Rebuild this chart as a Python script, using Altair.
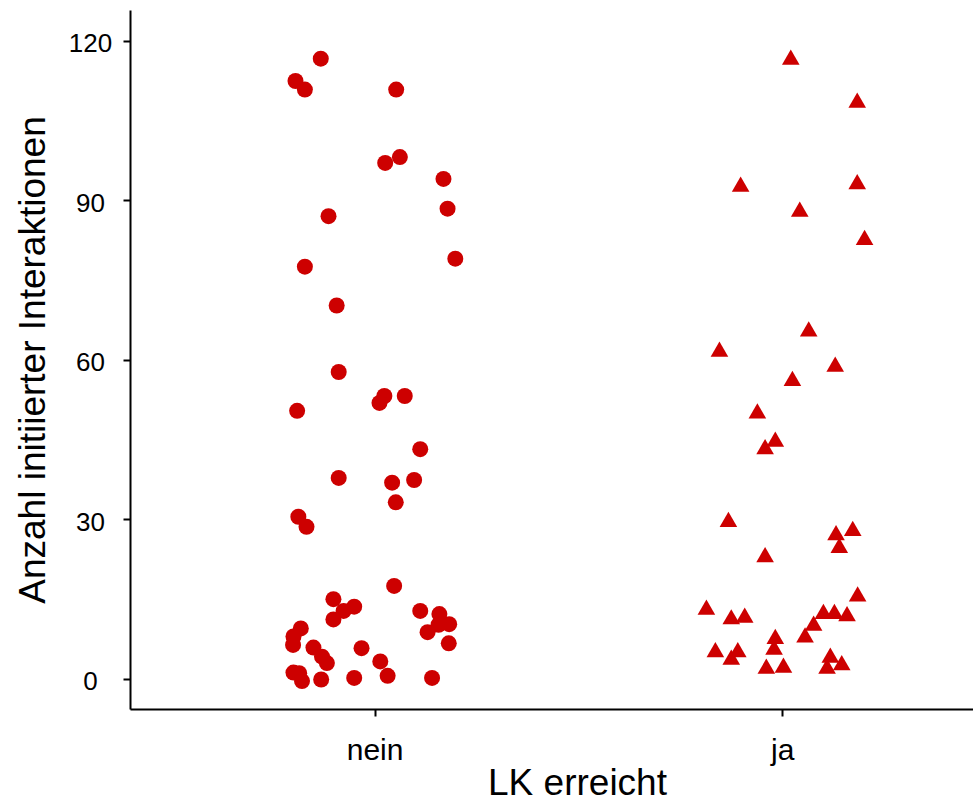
import altair as alt
import pandas as pd

# Group "nein" (circles): jittered x position and value
nein_x = [0.868, 0.806, 0.829, 1.053, 1.026, 1.062, 1.169, 1.179, 0.887, 1.198,
          0.829, 0.907, 0.912, 1.024, 1.012, 1.074, 0.810, 1.112, 0.912, 1.043,
          1.097, 1.052, 0.813, 0.833, 1.048, 0.899, 0.924, 0.950, 0.899, 1.112,
          1.159, 1.183, 1.157, 1.130, 1.182, 0.819, 0.801, 0.800, 0.850, 0.871,
          0.883, 0.968, 1.014, 0.801, 0.815, 0.822, 0.869, 0.950, 1.032, 1.141]
nein_y = [116.6, 112.4, 110.8, 110.8, 97.0, 98.1, 94.0, 88.4, 87.0, 79.0,
          77.5, 70.2, 57.7, 53.2, 51.9, 53.2, 50.4, 43.2, 37.8, 36.9,
          37.4, 33.2, 30.5, 28.6, 17.5, 15.0, 12.8, 13.6, 11.2, 12.8,
          12.2, 10.3, 10.2, 8.8, 6.7, 9.5, 8.0, 6.4, 5.9, 4.2,
          3.0, 5.8, 3.3, 1.2, 1.1, -0.4, -0.1, 0.2, 0.6, 0.2]

# Group "ja" (triangles)
ja_x = [2.021, 2.184, 1.898, 2.184, 2.043, 2.202, 2.065, 1.846, 2.130, 2.025,
        1.939, 1.983, 1.958, 1.868, 2.132, 2.173, 2.140, 1.958, 2.185, 1.814,
        1.875, 1.908, 2.101, 2.128, 2.159, 2.077, 2.056, 1.983, 1.980, 1.836,
        1.891, 1.875, 1.961, 2.003, 2.118, 2.110, 2.146]
ja_y = [116.9, 108.8, 93.0, 93.5, 88.3, 83.0, 65.8, 62.0, 59.2, 56.5,
        50.4, 45.1, 43.7, 30.0, 27.5, 28.3, 25.1, 23.4, 16.0, 13.5,
        11.7, 12.0, 12.7, 12.7, 12.3, 10.5, 8.3, 8.0, 6.0, 5.5,
        5.5, 4.1, 2.4, 2.6, 4.5, 2.4, 3.1]

groups = ["nein", "ja"]
y_ticks = [0, 30, 60, 90, 120]

df = pd.DataFrame({
    "LK": ["nein"] * len(nein_x) + ["ja"] * len(ja_x),
    "pos": nein_x + ja_x,
    "anzahl": nein_y + ja_y,
})

FONT = "Liberation Sans"

chart = alt.Chart(df).mark_point(filled=True, opacity=1, strokeWidth=0).encode(
    x=alt.X("pos:Q",
            scale=alt.Scale(domain=[0.4, 2.468], nice=False, zero=False),
            axis=alt.Axis(values=[1, 2],
                          labelExpr="datum.value == 1 ? 'nein' : 'ja'",
                          title="LK erreicht", grid=False,
                          domainColor="black", domainWidth=2,
                          tickColor="black", tickWidth=2, tickSize=7,
                          labelFont=FONT, labelFontSize=30, labelColor="black",
                          labelBaseline="alphabetic", labelPadding=43,
                          titleFont=FONT, titleFontSize=37, titleFontWeight="normal",
                          titleColor="black", titleX=447, titleY=85,
                          titleAlign="center", titleBaseline="alphabetic")),
    y=alt.Y("anzahl:Q",
            scale=alt.Scale(domain=[-5.64, 125.75], nice=False, zero=False),
            axis=alt.Axis(values=y_ticks, grid=False,
                          title="Anzahl initiierter Interaktionen",
                          domainColor="black", domainWidth=2,
                          tickColor="black", tickWidth=2, tickSize=7,
                          labelFont=FONT, labelFontSize=26, labelColor="black",
                          labelAlign="center", labelBaseline="middle",
                          labelPadding=33, labelOffset=3,
                          titleFont=FONT, titleFontSize=37, titleFontWeight="normal",
                          titleColor="black", titleAngle=270, titleX=-86, titleY=349.5,
                          titleAlign="center", titleBaseline="alphabetic")),
    shape=alt.Shape("LK:N", scale=alt.Scale(domain=groups, range=["circle", "triangle-up"]), legend=None),
    size=alt.Size("LK:N", scale=alt.Scale(domain=groups, range=[256, 310]), legend=None),
    color=alt.value("#CD0000"),
).properties(
    width=843, height=699,
    autosize=alt.AutoSizeParams(type="none"),
    padding={"left": 130, "top": 10, "right": 0, "bottom": 89},
    background="white",
).configure_view(stroke=None)

chart.save("out.html", embed_options={"renderer": "svg", "actions": False})
